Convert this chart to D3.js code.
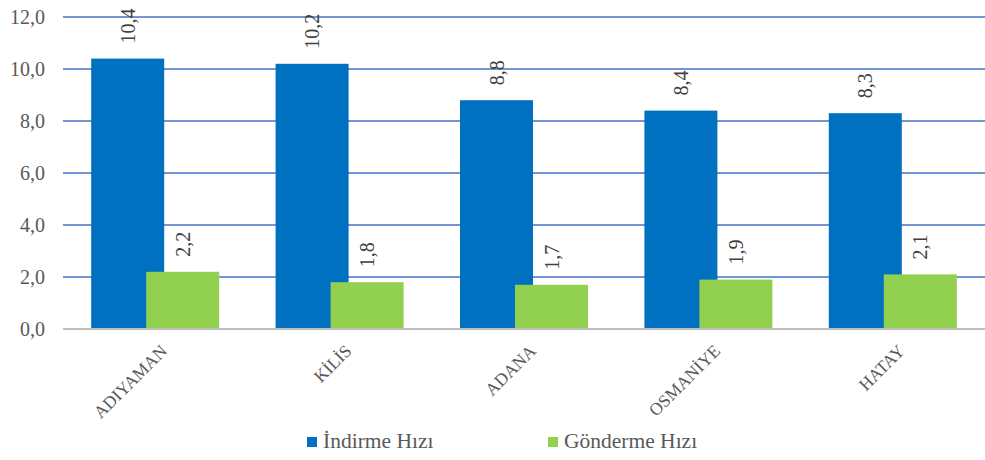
<!DOCTYPE html>
<html>
<head>
<meta charset="utf-8">
<script src="https://cdn.jsdelivr.net/npm/d3@7"></script>
</head>
<body style="margin:0">
<svg id="chart" width="985" height="460"></svg>
<script>
const categories = ["ADIYAMAN", "KİLİS", "ADANA", "OSMANİYE", "HATAY"];
const downloadSpeed = [10.4, 10.2, 8.8, 8.4, 8.3];
const uploadSpeed = [2.2, 1.8, 1.7, 1.9, 2.1];
const seriesNames = ["İndirme Hızı", "Gönderme Hızı"];
const yTicks = [0, 2, 4, 6, 8, 10, 12];

const colors = ["#0070C0", "#92D050"];
const FONT = "Liberation Serif";
const svg = d3.select("#chart").attr("font-family", FONT);
const margin = { left: 63, right: 0, top: 17, bottom: 131 };
const W = 985, H = 460;

const x = d3.scaleBand().domain(categories).range([margin.left, W - margin.right]).padding(0);
const y = d3.scaleLinear().domain([0, 12]).range([H - margin.bottom, margin.top]);
const fmt = v => d3.format(".1f")(v).replace(".", ",");

// gridlines
svg.append("g").selectAll("line").data(yTicks.filter(t => t > 0)).join("line")
  .attr("x1", margin.left).attr("x2", W)
  .attr("y1", d => y(d)).attr("y2", d => y(d))
  .attr("stroke", "#4472C4").attr("stroke-width", 1.6);

// y axis labels
const yAxis = d3.axisLeft(y).tickValues(yTicks).tickFormat(fmt).tickSize(0).tickPadding(18);
const yg = svg.append("g").attr("transform", `translate(${margin.left},0)`).call(yAxis);
yg.attr("font-family", FONT).attr("font-size", 20);
yg.select(".domain").remove();
yg.selectAll("text").attr("fill", "#595959");

// bars: width and overlap within each category
const bw = 73, overlap = 18;
const offsets = [-(bw * 2 - overlap) / 2, -(bw * 2 - overlap) / 2 + bw - overlap];
const series = [downloadSpeed, uploadSpeed];

series.forEach((vals, si) => {
  const g = svg.append("g");
  g.selectAll("rect").data(vals).join("rect")
    .attr("x", (d, i) => x(categories[i]) + x.bandwidth() / 2 + offsets[si])
    .attr("width", bw)
    .attr("y", d => y(d))
    .attr("height", d => y(0) - y(d))
    .attr("fill", colors[si]);
  g.selectAll("text").data(vals).join("text")
    .attr("transform", (d, i) => {
      const cx = x(categories[i]) + x.bandwidth() / 2 + offsets[si] + bw / 2 + 7;
      return `translate(${cx},${y(d) - 15}) rotate(-90)`;
    })
    .attr("text-anchor", "start")
    .attr("font-size", 20)
    .attr("fill", "#404040")
    .text(d => fmt(d));
});

// baseline
svg.append("line")
  .attr("x1", margin.left).attr("x2", W)
  .attr("y1", y(0)).attr("y2", y(0))
  .attr("stroke", "#BFBFBF").attr("stroke-width", 2);

// category labels
svg.append("g").selectAll("text").data(categories).join("text")
  .attr("transform", d => `translate(${x(d) + x.bandwidth() / 2 + 13},${y(0) + 23}) rotate(-45)`)
  .attr("text-anchor", "end")
  .attr("font-size", 17.5)
  .attr("fill", "#595959")
  .text(d => d);

// legend
const legendX = [307, 548];
const lg = svg.append("g");
seriesNames.forEach((name, i) => {
  lg.append("rect").attr("x", legendX[i]).attr("y", 437).attr("width", 10).attr("height", 10).attr("fill", colors[i]);
  lg.append("text").attr("x", legendX[i] + 16).attr("y", 448)
    .attr("font-size", 21.5).attr("fill", "#595959").text(name);
});
</script>
</body>
</html>
